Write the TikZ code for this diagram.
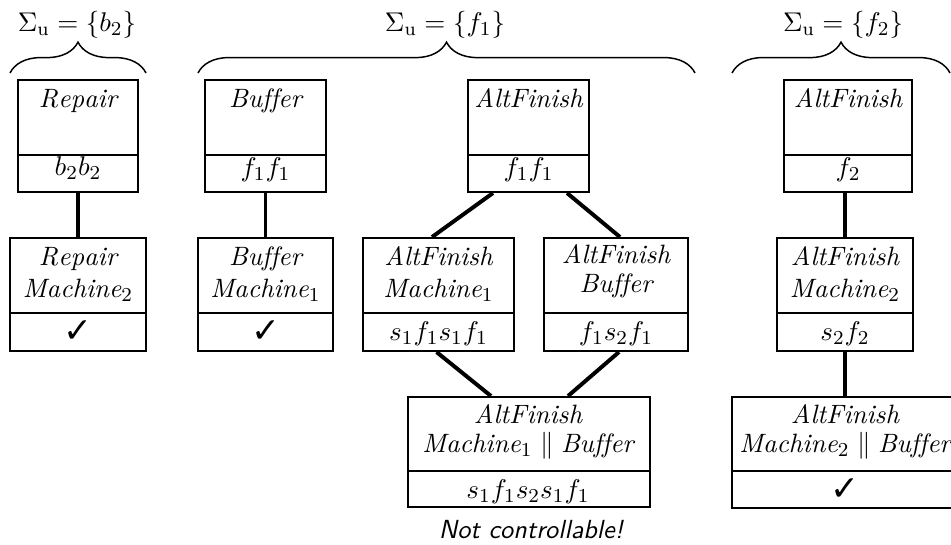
\documentclass[tikz,border=0pt]{standalone}
\usepackage{amssymb}
\usepackage{fontspec}
\newfontfamily\symfont{DejaVu Sans}
\usetikzlibrary{decorations.pathreplacing,calc,fit}
\begin{document}
\begin{tikzpicture}[x=0.405pt,y=-0.405pt,
  box/.style={draw, line width=0.8pt, inner sep=0pt},
  divider/.style={line width=0.45pt},
  link/.style={line width=1.6pt},
  brc/.style={decorate, decoration={brace, amplitude=12.5pt}, line width=0.6pt},
  lbl/.style={anchor=base, inner sep=0pt, font=\fontsize{10.75}{13}\selectfont},
  chk/.style={anchor=base, inner sep=0pt, font=\fontsize{14}{17}\selectfont\symfont},
  sig/.style={anchor=base, inner sep=0pt, font=\fontsize{11}{13}\selectfont},
  nc/.style={anchor=base, inner sep=0pt, font=\fontsize{10.6}{12}\selectfont\sffamily\itshape}]
\useasboundingbox (0,0) rectangle (951,544);
\clip (0,0) rectangle (951,544);

% braces and labels
\draw[brc] (10,73) -- (146,73);
\draw[brc] (198,73) -- (695,73);
\draw[brc] (732,73) -- (950,73);
\node[sig] (s1) at (77,31) {$\Sigma_{\mathrm{u}} = \{b_2\}$};
\node[sig] (s2) at (445,31) {$\Sigma_{\mathrm{u}} = \{f_1\}$};
\node[sig] (s3) at (843,31) {$\Sigma_{\mathrm{u}} = \{f_2\}$};

% boxes
\node[box, fit={(18,80) (138,192)}] (A) {};
\node[box, fit={(10,238) (146,351)}] (B) {};
\node[box, fit={(205,80) (326,192)}] (C) {};
\node[box, fit={(198,238) (333,351)}] (D) {};
\node[box, fit={(468,80) (589,192)}] (E) {};
\node[box, fit={(363,238) (514,351)}] (F) {};
\node[box, fit={(544,238) (688,351)}] (G) {};
\node[box, fit={(408,397) (650,507)}] (H) {};
\node[box, fit={(784,80) (912,192)}] (I) {};
\node[box, fit={(777,238) (913,351)}] (J) {};
\node[box, fit={(732,397) (958,508)}] (K) {};

% dividers
\foreach \n in {A,C,E,I} \draw[divider] (\n.west |- 0,155) -- (\n.east |- 0,155);
\foreach \n in {B,D,F,G,J} \draw[divider] (\n.west |- 0,313) -- (\n.east |- 0,313);
\foreach \n in {H,K} \draw[divider] (\n.west |- 0,471) -- (\n.east |- 0,471);

% texts
\node[lbl] (a1) at (78,107) {$\mathit{Repair}$};
\node[lbl] (a2) at (78,175) {$b_2b_2$};
\node[lbl] (b1) at (78,265) {$\mathit{Repair}$};
\node[lbl] (b2) at (78,297) {$\mathit{Machine}_2$};
\node[chk] (b3) at (78,342) {✓};
\node[lbl] (c1) at (265.5,107) {$\mathit{Buffer}$};
\node[lbl] (c2) at (265.5,176) {$f_1f_1$};
\node[lbl] (d1) at (265.5,265) {$\mathit{Buffer}$};
\node[lbl] (d2) at (265.5,297) {$\mathit{Machine}_1$};
\node[chk] (d3) at (265.5,342) {✓};
\node[lbl] (e1) at (528.5,107) {$\mathit{AltFinish}$};
\node[lbl] (e2) at (528.5,176) {$f_1f_1$};
\node[lbl] (f1) at (438.5,265) {$\mathit{AltFinish}$};
\node[lbl] (f2) at (438.5,297) {$\mathit{Machine}_1$};
\node[lbl] (f3) at (438.5,340) {$s_1f_1s_1f_1$};
\node[lbl] (g1) at (616,263) {$\mathit{AltFinish}$};
\node[lbl] (g2) at (616,292) {$\mathit{Buffer}$};
\node[lbl] (g3) at (616,340) {$f_1s_2f_1$};
\node[lbl] (h1) at (528,423) {$\mathit{AltFinish}$};
\node[lbl] (h2) at (528,452) {$\mathit{Machine}_1 \parallel \mathit{Buffer}$};
\node[lbl] (h3) at (528,498) {$s_1f_1s_2s_1f_1$};
\node[nc] (h4) at (531,538) {Not controllable!};
\node[lbl] (i1) at (848,107) {$\mathit{AltFinish}$};
\node[lbl] (i2) at (848,176) {$f_2$};
\node[lbl] (j1) at (845,265) {$\mathit{AltFinish}$};
\node[lbl] (j2) at (845,297) {$\mathit{Machine}_2$};
\node[lbl] (j3) at (845,340) {$s_2f_2$};
\node[lbl] (k1) at (845,423) {$\mathit{AltFinish}$};
\node[lbl] (k2) at (845,452) {$\mathit{Machine}_2 \parallel \mathit{Buffer}$};
\node[chk] (k3) at (845,500) {✓};

% connectors
\draw[link] (A) -- (B);
\draw[link] (C) -- (D);
\draw[link] ($(E.south)+(-35.5,0)$) -- ($(F.north)+(-6.5,0)$);
\draw[link] ($(E.south)+(38.5,0)$) -- ($(G.north)+(4,0)$);
\draw[link] ($(F.south)+(-2,0)$) -- ($(H.north)+(-38,0)$);
\draw[link] ($(G.south)+(3,0)$) -- ($(H.north)+(39,0)$);
\draw[link] (J.north |- I.south) -- (J.north);
\draw[link] (J.south) -- (J.south |- K.north);
\end{tikzpicture}
\end{document}
